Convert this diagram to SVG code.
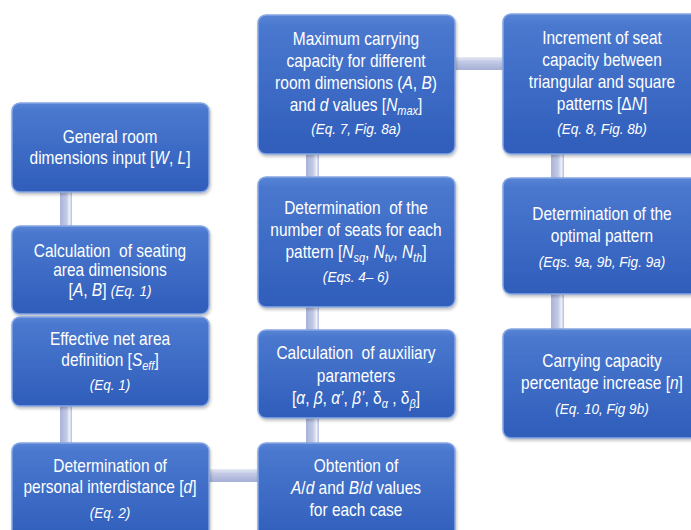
<svg xmlns="http://www.w3.org/2000/svg" width="691" height="530" viewBox="0 0 691 530">
<defs>
<linearGradient id="gBox" x1="0" y1="0" x2="0" y2="1">
<stop offset="0" stop-color="#5884d4"/>
<stop offset="0.08" stop-color="#4a78cf"/>
<stop offset="1" stop-color="#2f5dba"/>
</linearGradient>
<linearGradient id="gV" x1="0" y1="0" x2="1" y2="0">
<stop offset="0" stop-color="#a9b3d8"/>
<stop offset="0.55" stop-color="#c3cae6"/>
<stop offset="0.8" stop-color="#eef1fa"/>
<stop offset="1" stop-color="#b3bce0"/>
</linearGradient>
<linearGradient id="gH" x1="0" y1="0" x2="0" y2="1">
<stop offset="0" stop-color="#e6eaf6"/>
<stop offset="0.35" stop-color="#c3cae6"/>
<stop offset="1" stop-color="#a5afd6"/>
</linearGradient>
<filter id="sh" x="-5%" y="-5%" width="110%" height="115%">
<feDropShadow dx="1" dy="2" stdDeviation="1.5" flood-color="#000" flood-opacity="0.25"/>
</filter>
</defs>
<style>
.box { fill: url(#gBox); stroke: #86a6e4; stroke-width: 1.5; filter: url(#sh); }
.t { font-family: "Liberation Sans", Arial, sans-serif; font-size: 17.7px; fill: #ffffff; text-anchor: middle; }
.e { font-size: 15.5px; font-style: italic; }
.i { font-style: italic; }
.s { font-style: italic; font-size: 12.5px; }
.v { fill: url(#gV); }
.h { fill: url(#gH); }
</style>
<rect width="691" height="530" fill="#ffffff"/>
<g id="connectors">
<rect class="v" x="60" y="190" width="12" height="38"/>
<rect class="v" x="60" y="404" width="12" height="41"/>
<rect class="h" x="207" y="469" width="53" height="13"/>
<rect class="v" x="306" y="152" width="13" height="27"/>
<rect class="v" x="306" y="305" width="13" height="27"/>
<rect class="v" x="306" y="416" width="13" height="29"/>
<rect class="h" x="453" y="57" width="52" height="13"/>
<rect class="v" x="551" y="152" width="13" height="28"/>
<rect class="v" x="551" y="292" width="13" height="39"/>
</g>
<g id="n1">
<rect class="box" x="12" y="103" width="197" height="89" rx="8"/>
<g transform="translate(110 0) scale(0.875 1)">
<text class="t" x="0" y="143">General room</text>
<text class="t" x="0" y="164">dimensions input [<tspan class="i">W</tspan>, <tspan class="i">L</tspan>]</text>
</g>
</g>
<g id="n2">
<rect class="box" x="12" y="226" width="197" height="88" rx="8"/>
<g transform="translate(110 0) scale(0.875 1)">
<text class="t" x="0" y="257" xml:space="preserve">Calculation  of seating</text>
<text class="t" x="0" y="276">area dimensions</text>
<text class="t" x="0" y="296">[<tspan class="i">A</tspan>, <tspan class="i">B</tspan>] <tspan class="e">(Eq. 1)</tspan></text>
</g>
</g>
<g id="n3">
<rect class="box" x="12" y="317" width="197" height="89" rx="8"/>
<g transform="translate(110 0) scale(0.875 1)">
<text class="t" x="0" y="345">Effective net area</text>
<text class="t" x="0" y="366">definition [<tspan class="i">S</tspan><tspan class="s" dy="4">eff</tspan><tspan dy="-4">]</tspan></text>
<text class="t e" x="0" y="390">(Eq. 1)</text>
</g>
</g>
<g id="n4">
<rect class="box" x="12" y="443" width="197" height="100" rx="8"/>
<g transform="translate(110 0) scale(0.875 1)">
<text class="t" x="0" y="472">Determination of</text>
<text class="t" x="0" y="493">personal interdistance [<tspan class="i">d</tspan>]</text>
<text class="t e" x="0" y="518">(Eq. 2)</text>
</g>
</g>
<g id="n5">
<rect class="box" x="258" y="15" width="197" height="139" rx="8"/>
<g transform="translate(356 0) scale(0.875 1)">
<text class="t" x="0" y="45">Maximum carrying</text>
<text class="t" x="0" y="67">capacity for different</text>
<text class="t" x="0" y="89">room dimensions (<tspan class="i">A</tspan>, <tspan class="i">B</tspan>)</text>
<text class="t" x="0" y="111">and <tspan class="i">d</tspan> values [<tspan class="i">N</tspan><tspan class="s" dy="4">max</tspan><tspan dy="-4">]</tspan></text>
<text class="t e" x="0" y="134">(Eq. 7, Fig. 8a)</text>
</g>
</g>
<g id="n6">
<rect class="box" x="258" y="177" width="197" height="130" rx="8"/>
<g transform="translate(356 0) scale(0.875 1)">
<text class="t" x="0" y="214" xml:space="preserve">Determination  of the</text>
<text class="t" x="0" y="236">number of seats for each</text>
<text class="t" x="0" y="258">pattern [<tspan class="i">N</tspan><tspan class="s" dy="4">sq</tspan><tspan dy="-4">, </tspan><tspan class="i">N</tspan><tspan class="s" dy="4">tv</tspan><tspan dy="-4">, </tspan><tspan class="i">N</tspan><tspan class="s" dy="4">th</tspan><tspan dy="-4">]</tspan></text>
<text class="t e" x="0" y="282">(Eqs. 4– 6)</text>
</g>
</g>
<g id="n7">
<rect class="box" x="258" y="330" width="197" height="88" rx="8"/>
<g transform="translate(356 0) scale(0.875 1)">
<text class="t" x="0" y="359" xml:space="preserve">Calculation  of auxiliary</text>
<text class="t" x="0" y="382">parameters</text>
<text class="t" x="0" y="404">[<tspan class="i">α</tspan>, <tspan class="i">β</tspan>, <tspan class="i">α’</tspan>, <tspan class="i">β’</tspan>, δ<tspan class="s" dy="4">α</tspan><tspan dy="-4"> , δ</tspan><tspan class="s" dy="4">β</tspan><tspan dy="-4">]</tspan></text>
</g>
</g>
<g id="n8">
<rect class="box" x="258" y="443" width="197" height="100" rx="8"/>
<g transform="translate(356 0) scale(0.875 1)">
<text class="t" x="0" y="472">Obtention of</text>
<text class="t" x="0" y="494"><tspan class="i">A</tspan>/<tspan class="i">d</tspan> and <tspan class="i">B</tspan>/<tspan class="i">d</tspan> values</text>
<text class="t" x="0" y="516">for each case</text>
</g>
</g>
<g id="n9">
<rect class="box" x="503" y="14" width="197" height="140" rx="8"/>
<g transform="translate(602 0) scale(0.875 1)">
<text class="t" x="0" y="44">Increment of seat</text>
<text class="t" x="0" y="66">capacity between</text>
<text class="t" x="0" y="88">triangular and square</text>
<text class="t" x="0" y="110">patterns [Δ<tspan class="i">N</tspan>]</text>
<text class="t e" x="0" y="134">(Eq. 8, Fig. 8b)</text>
</g>
</g>
<g id="n10">
<rect class="box" x="503" y="178" width="197" height="116" rx="8"/>
<g transform="translate(602 0) scale(0.875 1)">
<text class="t" x="0" y="220">Determination of the</text>
<text class="t" x="0" y="242">optimal pattern</text>
<text class="t e" x="0" y="267">(Eqs. 9a, 9b, Fig. 9a)</text>
</g>
</g>
<g id="n11">
<rect class="box" x="503" y="329" width="197" height="109" rx="8"/>
<g transform="translate(602 0) scale(0.875 1)">
<text class="t" x="0" y="367">Carrying capacity</text>
<text class="t" x="0" y="389">percentage increase [<tspan class="i">n</tspan>]</text>
<text class="t e" x="0" y="414">(Eq. 10, Fig 9b)</text>
</g>
</g>
</svg>
